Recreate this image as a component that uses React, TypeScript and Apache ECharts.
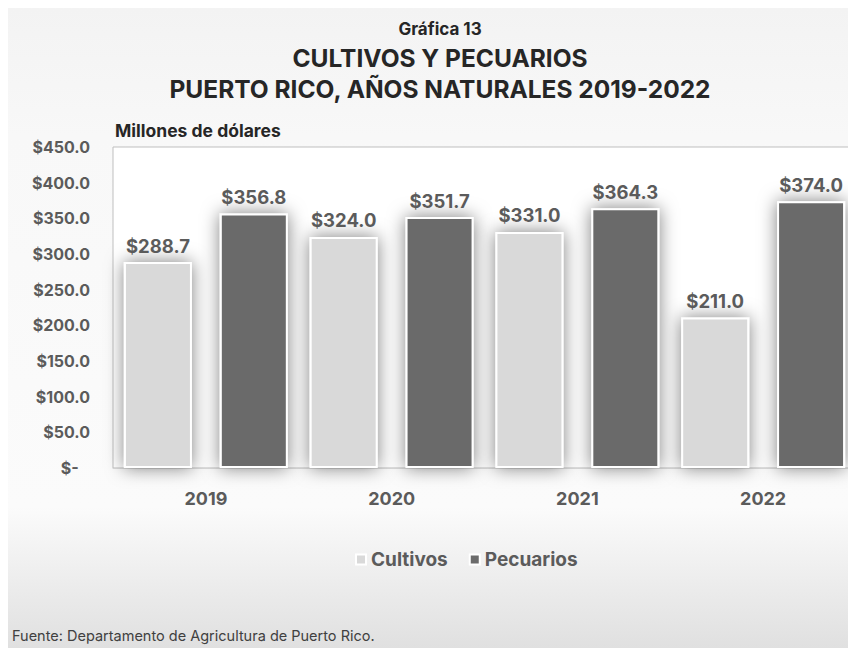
import React, { useEffect, useRef } from "react";
import * as echarts from "echarts";

const categories = ["2019", "2020", "2021", "2022"];
const cultivos = [288.7, 324.0, 331.0, 211.0];
const pecuarios = [356.8, 351.7, 364.3, 374.0];
const seriesNames = ["Cultivos", "Pecuarios"];
const yTicks = { min: 0, max: 450, interval: 50 };

const FONT = "Inter";
const LABEL = "#5b5b5b";

export default function App() {
  const ref = useRef<HTMLDivElement>(null);
  useEffect(() => {
    const chart = echarts.init(ref.current!, null, { renderer: "svg" });
    const fmt = (v: number) => "$" + v.toFixed(1);
    const barStyle = (color: string) => ({
      color,
      borderColor: "#ffffff",
      borderWidth: 2,
      shadowBlur: 18,
      shadowColor: "rgba(0,0,0,0.5)",
    });
    const valueLabel = {
      show: true,
      position: "top",
      distance: 7,
      formatter: (p: any) => fmt(p.value),
      fontFamily: FONT,
      fontWeight: "bold",
      fontSize: 18.5,
      color: LABEL,
    };
    chart.setOption({
      animation: false,
      textStyle: { fontFamily: FONT },
      graphic: [
        {
          type: "rect",
          z: -10,
          silent: true,
          shape: { x: 0, y: 0, width: 848, height: 640 },
          style: {
            fill: {
              type: "linear",
              x: 0, y: 0, x2: 0, y2: 1,
              colorStops: [
                { offset: 0, color: "#f3f3f3" },
                { offset: 0.2, color: "#f8f8f8" },
                { offset: 0.78, color: "#fbfbfb" },
                { offset: 0.86, color: "#f1f1f1" },
                { offset: 1, color: "#e0e0e0" },
              ],
            },
          },
        },
        {
          type: "text",
          left: 107,
          top: 113,
          style: { text: "Millones de dólares", font: `bold 17.5px ${FONT}`, fill: "#262626" },
        },
        {
          type: "text",
          left: 4,
          top: 620,
          style: { text: "Fuente: Departamento de Agricultura de Puerto Rico.", font: `14.5px ${FONT}`, fill: "#404040" },
        },
      ],
      title: [
        {
          text: "Gráfica 13",
          left: 427,
          top: 7,
          textAlign: "center",
          textStyle: { fontFamily: FONT, fontWeight: "bold", fontSize: 17, color: "#262626" },
        },
        {
          text: "CULTIVOS Y PECUARIOS\nPUERTO RICO, AÑOS NATURALES 2019-2022",
          left: 427,
          top: 29,
          textAlign: "center",
          textStyle: { fontFamily: FONT, fontWeight: "bold", fontSize: 24.5, lineHeight: 31, color: "#262626" },
        },
      ],
      legend: {
        data: seriesNames,
        left: 342,
        top: 537,
        itemWidth: 10,
        itemHeight: 10,
        itemGap: 21,
        icon: "rect",
        textStyle: { fontFamily: FONT, fontWeight: "bold", fontSize: 19, color: LABEL },
      },
      grid: {
        left: 105,
        top: 139,
        right: 0,
        bottom: 180,
        show: true,
        backgroundColor: "#ffffff",
        borderColor: "#bfbfbf",
        borderWidth: 1,
      },
      xAxis: {
        type: "category",
        data: categories,
        axisTick: { show: false },
        axisLine: { lineStyle: { color: "#d9d9d9" } },
        axisLabel: { margin: 21, fontFamily: FONT, fontWeight: "bold", fontSize: 18, color: LABEL },
      },
      yAxis: {
        type: "value",
        min: yTicks.min,
        max: yTicks.max,
        interval: yTicks.interval,
        splitLine: { show: false },
        axisLabel: {
          margin: 23,
          fontFamily: FONT,
          fontWeight: "bold",
          fontSize: 16,
          color: LABEL,
          formatter: (v: number) => (v === 0 ? "$-   " : fmt(v)),
        },
      },
      series: [
        {
          name: seriesNames[0],
          type: "bar",
          data: cultivos,
          barWidth: 68,
          barGap: "41%",
          itemStyle: barStyle("#d9d9d9"),
          label: valueLabel,
        },
        {
          name: seriesNames[1],
          type: "bar",
          data: pecuarios,
          barWidth: 68,
          barGap: "41%",
          itemStyle: barStyle("#6b6b6b"),
          label: valueLabel,
        },
      ],
    });
    return () => chart.dispose();
  }, []);
  return <div ref={ref} style={{ width: 848, height: 640 }} />;
}
